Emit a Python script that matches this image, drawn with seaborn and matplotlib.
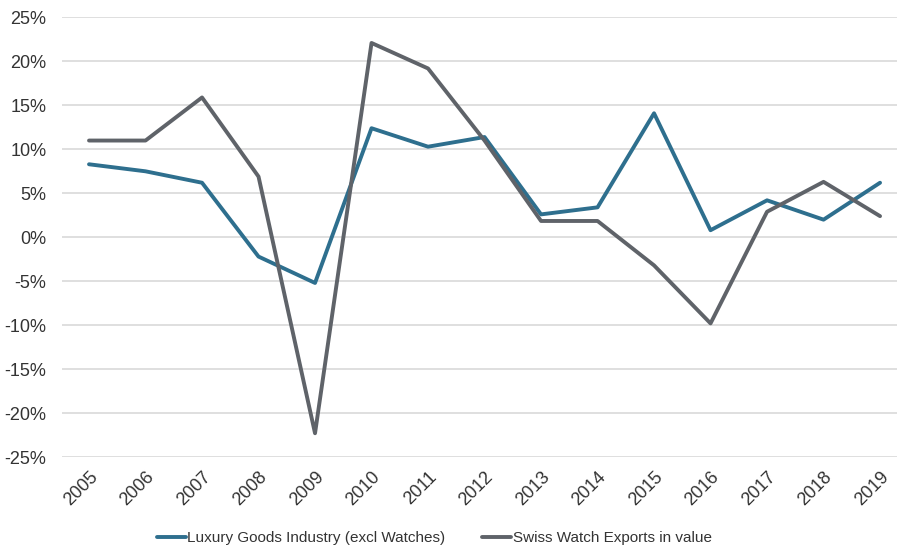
import matplotlib
matplotlib.use("Agg")
import matplotlib.pyplot as plt
import seaborn as sns
import pandas as pd

years = [str(y) for y in range(2005, 2020)]
luxury = [8.3, 7.5, 6.2, -2.2, -5.2, 12.4, 10.3, 11.4, 2.6, 3.4, 14.1, 0.8, 4.2, 2.0, 6.2]
swiss = [11.0, 11.0, 15.9, 6.9, -22.3, 22.1, 19.2, 11.0, 1.85, 1.85, -3.2, -9.8, 2.9, 6.3, 2.4]
series_names = ["Luxury Goods Industry (excl Watches)", "Swiss Watch Exports in value"]
colors = ["#2e6f8e", "#5f6369"]

df = pd.DataFrame({
    "year": years * 2,
    "value": luxury + swiss,
    "series": [series_names[0]] * len(years) + [series_names[1]] * len(years),
})

sns.set_theme(style="white")
plt.rcParams["font.family"] = ["Liberation Sans", "DejaVu Sans"]

fig = plt.figure(figsize=(8.97, 5.46), dpi=100)
ax = fig.add_axes([0.069, 0.163, 0.931, 0.805])

sns.lineplot(data=df, x="year", y="value", hue="series", palette=colors,
             linewidth=2.8, ax=ax, sort=False)

ax.set_ylim(-25, 25)
ax.set_xlim(-0.48, 14.3)
ax.set_yticks(range(-25, 30, 5))
ax.set_yticklabels([f"{v}%" for v in range(-25, 30, 5)])
ax.grid(axis="y", color="#d9d9d9", linewidth=1.2)
ax.grid(axis="x", visible=False)
for s in ax.spines.values():
    s.set_visible(False)
ax.tick_params(axis="both", length=0, labelsize=13, colors="#333333")
ax.tick_params(axis="y", pad=11)
ax.tick_params(axis="x", pad=8)
for lbl in ax.get_xticklabels():
    lbl.set_rotation(45)
    lbl.set_ha("right")
    lbl.set_rotation_mode("anchor")
ax.set_xlabel("")
ax.set_ylabel("")

handles, labels = ax.get_legend_handles_labels()
ax.legend(handles, labels, loc="lower center", bbox_to_anchor=(0.484, -0.024),
          bbox_transform=fig.transFigure, ncol=2, frameon=False, fontsize=11,
          handlelength=1.9, handletextpad=0.1, columnspacing=2.4, labelcolor="#333333")

fig.savefig("out.png", dpi=100)
